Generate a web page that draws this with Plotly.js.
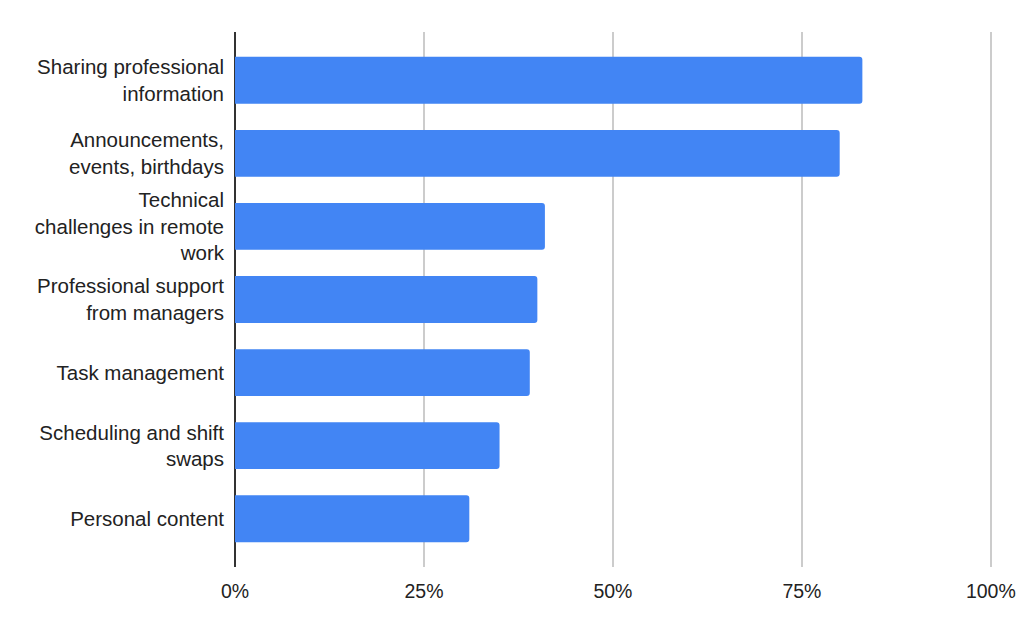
<!DOCTYPE html>
<html>
<head>
<meta charset="utf-8">
<script src="https://cdn.plot.ly/plotly-3.0.1.min.js"></script>
<style>html,body{margin:0;padding:0;background:#fff;}#chart{width:1024px;height:633px;}</style>
</head>
<body>
<div id="chart"></div>
<script>
const categories = [
  "Sharing professional<br>information",
  "Announcements,<br>events, birthdays",
  "Technical<br>challenges in remote<br>work",
  "Professional support<br>from managers",
  "Task management",
  "Scheduling and shift<br>swaps",
  "Personal content"
];
const values = [0.83, 0.80, 0.41, 0.40, 0.39, 0.35, 0.31];
const xTickVals = [0, 0.25, 0.5, 0.75, 1];
const xTickText = ["0%", "25%", "50%", "75%", "100%"];

const trace = {
  type: 'bar',
  orientation: 'h',
  x: values,
  y: categories,
  marker: {color: '#4285F4'},
  width: 0.64,
  hoverinfo: 'x+y'
};

const layout = {
  width: 1024,
  height: 633,
  margin: {l: 235, r: 32, t: 32, b: 66},
  paper_bgcolor: '#ffffff',
  plot_bgcolor: '#ffffff',
  font: {family: 'Liberation Sans, Arial, sans-serif', size: 20.5, color: '#222222'},
  barcornerradius: 3,
  showlegend: false,
  xaxis: {
    range: [0, 1.0015],
    tickvals: xTickVals,
    ticktext: xTickText,
    tickfont: {size: 19.5},
    showgrid: true,
    gridcolor: '#cccccc',
    gridwidth: 1.3,
    zeroline: true,
    zerolinecolor: '#333333',
    zerolinewidth: 1.5,
    showline: false,
    ticks: '',
    ticklabelstandoff: 10,
    fixedrange: true
  },
  yaxis: {
    type: 'category',
    categoryorder: 'array',
    categoryarray: categories,
    range: [6.66, -0.66],
    showgrid: false,
    zeroline: false,
    showline: false,
    ticks: '',
    ticklabelstandoff: 10,
    fixedrange: true
  }
};

Plotly.newPlot('chart', [trace], layout, {displayModeBar: false, staticPlot: true});
</script>
</body>
</html>
